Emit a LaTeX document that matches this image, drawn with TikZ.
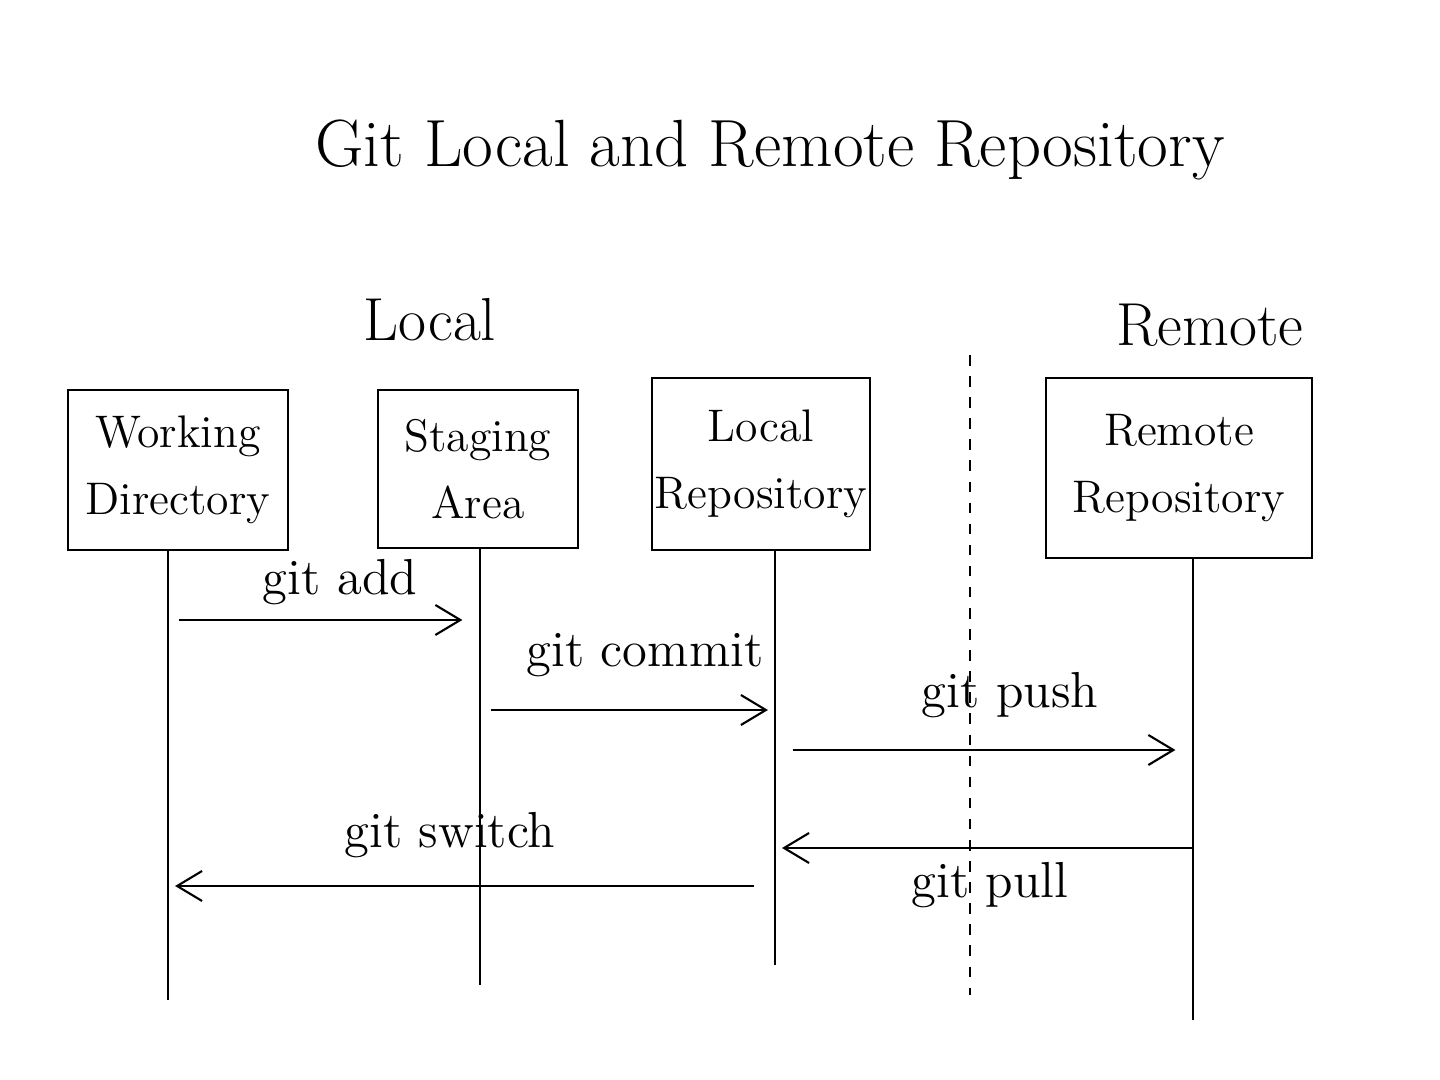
\documentclass[tikz,border=0pt]{standalone}
\usepackage{amsmath}
\usepackage{tikz}
\usetikzlibrary{arrows.meta, positioning}
\tikzstyle{arrow} = [semithick,-{Straight Barb[length=2.5mm,width=3mm]}]
\tikzset{box/.style={draw, semithick, align=center, font=\fontsize{13}{16}\selectfont, inner sep=0pt},
         lifeline/.style={semithick},
         cmd/.style={font=\Large}}

\begin{document}
\begin{tikzpicture}
            \useasboundingbox (0,0) rectangle (14.4,10.8);
            % Title and group headings
            \node (title) at (7.7, 9.3) {\fontsize{19}{22}\selectfont Git Local and Remote Repository};
            \node (local) at (4.3, 7.6) {\LARGE Local};
            \node (remote) at (12.1, 7.55) {\LARGE Remote};

            % Draw the four boxes
            \node[box, minimum width=2.2cm, minimum height=1.6cm] (wd) at (1.78, 6.10) {Working\\[3pt]Directory};
            \node[box, minimum width=2.0cm, minimum height=1.58cm] (sa) at (4.78, 6.11) {Staging\\[3pt]Area};
            \node[box, minimum width=2.18cm, minimum height=1.72cm] (lr) at (7.61, 6.16) {Local\\[3pt]Repository};
            \node[box, minimum width=2.66cm, minimum height=1.8cm] (rr) at (11.79, 6.12) {Remote\\[3pt]Repository};

            % Lifelines below each box
            \coordinate (wdtop) at ([xshift=-1mm]wd.south);
            \coordinate (satop) at ([xshift=0.2mm]sa.south);
            \coordinate (lrtop) at ([xshift=1.4mm]lr.south);
            \coordinate (rrtop) at ([xshift=1.4mm]rr.south);
            \coordinate (wdend) at (wdtop |- 0,0.8);
            \coordinate (saend) at (satop |- 0,0.95);
            \coordinate (lrend) at (lrtop |- 0,1.15);
            \coordinate (rrend) at (rrtop |- 0,0.6);
            \draw[lifeline] (wdtop) -- (wdend);
            \draw[lifeline] (satop) -- (saend);
            \draw[lifeline] (lrtop) -- (lrend);
            \draw[lifeline] (rrtop) -- (rrend);

            % Dashed line between local and remote
            \coordinate (divtop) at (9.7, 7.25);
            \coordinate (divbot) at (9.7, 0.85);
            \draw[semithick, dashed] (divtop) -- (divbot);

            % Points on the lifelines
            \coordinate (wdadd) at (wdtop |- 0,4.6);
            \coordinate (saadd) at (satop |- 0,4.6);
            \coordinate (sacommit) at (satop |- 0,3.7);
            \coordinate (lrcommit) at (lrtop |- 0,3.7);
            \coordinate (lrpush) at (lrtop |- 0,3.3);
            \coordinate (rrpush) at (rrtop |- 0,3.3);
            \coordinate (rrpull) at (rrtop |- 0,2.32);
            \coordinate (lrpull) at (lrtop |- 0,2.32);
            \coordinate (lrswitch) at (lrtop |- 0,1.94);
            \coordinate (wdswitch) at (wdtop |- 0,1.94);

            % Draw the commands
            \draw[arrow, shorten <=3pt, shorten >=5pt] (wdadd) -- (saadd);
            \node[cmd] (add) at (3.4, 4.98) {git add};
            \draw[arrow, shorten <=3pt, shorten >=2pt] (sacommit) -- (lrcommit);
            \node[cmd] (commit) at (6.45, 4.25) {git commit};
            \draw[arrow, shorten <=5pt, shorten >=5pt] (lrpush) -- (rrpush);
            \node[cmd] (push) at (10.1, 3.85) {git push};
            \draw[arrow, shorten <=0pt, shorten >=2pt] (rrpull) -- (lrpull);
            \node[cmd] (pull) at (9.9, 1.95) {git pull};
            \draw[arrow, shorten <=6pt, shorten >=2pt] (lrswitch) -- (wdswitch);
            \node[cmd] (switch) at (4.5, 2.45) {git switch};
        \end{tikzpicture}
\end{document}
